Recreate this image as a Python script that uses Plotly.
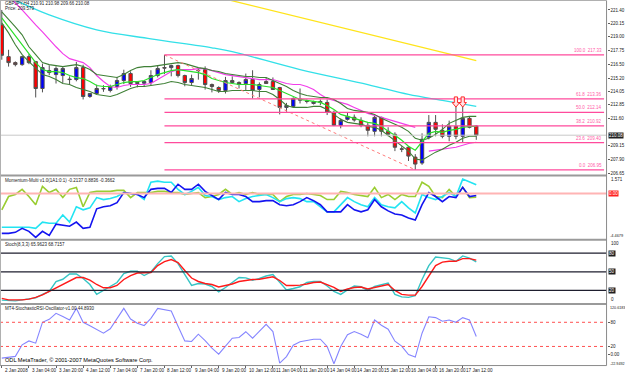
import plotly.graph_objects as go

W, H = 625, 377
bars = list(range(71))

opens = [220.05, 217.18, 216.64, 216.46, 217.18, 216.73, 214.30, 215.92, 215.56, 215.47,
         215.15, 215.11, 216.19, 213.58, 213.85, 214.30, 214.12, 214.48, 215.02, 215.65,
         214.75, 214.78, 214.84, 215.47, 216.19, 216.19, 216.37, 215.47, 214.84, 215.95,
         216.01, 214.66, 214.39, 214.12, 215.02, 214.84, 214.75, 215.11, 214.21, 214.93,
         214.93, 214.39, 212.59, 212.68, 213.35, 213.13, 212.95, 213.13, 213.04, 212.14,
         210.97, 211.51, 211.70, 211.42, 210.97, 210.43, 211.69, 210.43, 210.16, 208.85,
         208.99, 208.10, 207.56, 209.89, 211.24, 210.52, 209.98, 210.88, 209.98, 211.60, 210.91]
highs = [221.40, 217.80, 216.75, 217.25, 217.40, 216.80, 216.55, 216.40, 216.30, 216.30,
         215.40, 216.70, 216.45, 213.85, 214.65, 214.60, 214.65, 215.35, 216.00, 215.85,
         214.90, 214.95, 215.95, 216.35, 217.33, 216.45, 216.45, 215.55, 215.55, 216.15,
         216.30, 214.75, 214.50, 215.35, 215.40, 214.95, 215.65, 215.95, 214.85, 215.30,
         215.30, 214.45, 213.00, 213.50, 214.30, 213.30, 213.20, 213.30, 213.30, 212.30,
         211.60, 212.10, 211.95, 211.70, 211.24, 211.87, 211.75, 210.80, 210.34, 209.08,
         209.10, 208.37, 210.25, 211.90, 211.90, 211.06, 211.40, 212.77, 212.77, 211.78, 210.98]
lows = [216.90, 216.28, 216.30, 216.35, 216.50, 213.49, 213.95, 215.50, 214.75, 214.80,
        214.70, 214.95, 213.31, 213.45, 213.75, 214.00, 213.95, 214.20, 214.70, 214.45,
        214.40, 214.45, 214.60, 215.30, 215.60, 215.40, 215.30, 214.50, 214.60, 215.10,
        214.20, 213.95, 213.90, 213.85, 214.75, 214.30, 214.10, 213.40, 213.50, 214.75,
        214.20, 211.96, 212.20, 212.60, 212.95, 212.95, 212.85, 212.80, 211.90, 210.90,
        210.70, 211.40, 211.30, 210.80, 209.98, 209.98, 209.98, 209.98, 208.64, 208.55,
        207.75, 206.95, 207.40, 209.70, 209.98, 209.80, 209.53, 209.71, 209.44, 210.70, 209.66]
closes = [217.30, 216.64, 216.46, 217.18, 216.64, 214.30, 216.19, 215.74, 216.10, 216.10,
          215.11, 216.19, 213.58, 213.85, 214.30, 214.28, 214.48, 215.02, 215.65, 214.75,
          214.84, 214.93, 215.47, 216.10, 216.15, 216.37, 215.47, 214.84, 215.20, 215.92,
          214.66, 214.48, 214.12, 215.02, 214.84, 214.66, 215.11, 214.12, 214.66, 214.75,
          214.21, 212.59, 212.77, 213.40, 213.25, 213.15, 213.10, 213.04, 212.14, 210.97,
          211.42, 211.78, 211.45, 210.97, 210.52, 211.69, 210.43, 210.16, 208.99, 208.81,
          208.19, 207.47, 209.71, 211.24, 210.61, 209.98, 210.88, 209.98, 211.60, 210.79, 210.08]

band_upper = [221.22, 220.59, 219.87, 219.15, 218.07, 217.36, 216.64, 216.46, 216.37, 216.28,
              216.37, 216.46, 216.28, 216.01, 215.56, 215.47, 215.38, 215.29, 215.56, 215.92,
              216.19, 216.28, 216.28, 216.37, 216.46, 216.55, 216.64, 216.55, 216.37, 216.19,
              216.10, 215.92, 215.83, 215.65, 215.56, 215.47, 215.38, 215.38, 215.29, 215.29,
              215.02, 214.75, 214.48, 214.12, 213.85, 213.67, 213.58, 213.49, 213.49, 213.31,
              212.95, 212.50, 212.32, 212.23, 212.14, 211.96, 211.60, 211.33, 211.06, 210.79,
              210.43, 209.80, 209.62, 209.80, 210.16, 210.61, 211.15, 211.42, 211.69, 211.78, 211.78]
band_mid = [220.68, 219.87, 219.06, 218.25, 217.36, 216.64, 216.01, 215.83, 215.83, 215.74,
            215.47, 215.29, 215.20, 214.93, 214.57, 214.48, 214.48, 214.66, 214.84, 214.93,
            214.93, 215.02, 215.29, 215.56, 215.74, 215.92, 216.01, 215.92, 215.83, 215.74,
            215.56, 215.20, 215.02, 214.84, 214.75, 214.66, 214.66, 214.66, 214.57, 214.48,
            214.39, 214.12, 213.85, 213.58, 213.31, 213.22, 213.13, 213.04, 212.77, 212.41,
            211.96, 211.78, 211.60, 211.42, 211.24, 211.15, 210.88, 210.43, 210.07, 209.62,
            209.08, 208.72, 209.44, 210.25, 210.43, 210.34, 210.52, 210.61, 210.79, 210.88, 210.88]
band_lower = [220.23, 219.33, 218.25, 217.36, 216.73, 216.19, 215.56, 215.38, 215.11, 214.75,
              214.66, 214.39, 214.21, 214.03, 213.76, 213.67, 213.58, 213.76, 214.03, 214.30,
              214.48, 214.48, 214.57, 214.66, 214.75, 214.93, 214.84, 214.66, 214.57, 214.48,
              214.39, 214.21, 214.03, 214.03, 214.12, 214.12, 214.12, 214.12, 214.03, 214.03,
              213.76, 213.31, 212.77, 212.59, 212.59, 212.59, 212.68, 212.68, 212.41, 211.96,
              211.51, 211.24, 211.15, 211.06, 210.88, 210.79, 210.52, 210.07, 209.62, 209.17,
              208.64, 207.92, 207.83, 208.19, 208.55, 208.81, 209.17, 209.44, 209.80, 209.98, 209.98]
stop_line = [223.38, 222.66, 222.03, 221.40, 220.68, 220.05, 219.42, 218.70, 218.07, 217.45,
             217.00, 216.82, 216.64, 216.19, 215.47, 214.93, 214.48, 214.39, 214.57, 214.66,
             214.66, 214.66, 214.75, 215.11, 215.47, 215.83, 216.01, 216.01, 216.01, 216.10,
             216.10, 215.92, 215.74, 215.56, 215.47, 215.38, 215.29, 215.20, 215.11, 215.11,
             215.11, 214.93, 214.75, 214.66, 214.66, 214.48, 214.21, 213.76, 213.40, 213.22,
             213.04, 212.86, 212.59, 212.32, 212.05, 211.87, 211.69, 211.51, 211.33, 211.15,
             210.97, 210.79, None, 208.64, 208.72, 208.81, 208.90, 208.99, 209.17, 209.35, 209.44]
ma_slow_bars = [0, 2, 7, 14, 22, 31, 34, 44, 54, 60, 65, 70]
ma_slow = [222.66, 222.25, 220.95, 219.60, 218.79, 217.98, 217.63, 216.01, 214.66, 213.76, 213.22, 212.68]
ma_long_bars = [30, 40, 50, 60, 70]
ma_long = [222.83, 221.33, 219.83, 218.33, 216.83]

fib_high_bar, fib_high = 24, 217.33
fib_low_bar, fib_low = 61, 206.95
fib_ratios = [100.0, 61.8, 50.0, 38.2, 23.6, 0.0]
arrow_bars = [67, 68]
arrow_price = 213.08
bid = 210.08
main_ticks = [221.40, 220.15, 219.00, 217.75, 216.50, 215.20, 214.05, 212.85, 211.60, 209.15, 207.90, 206.65]

mom_a = [-1.66, -0.31, -0.10, 0.42, -0.31, -1.14, 0.73, 0.10, 0.42, -0.42,
         0.42, 0.62, -1.35, 0.10, 0.21, 0.21, 0.21, 0.31, 0.31, -0.42,
         0.10, 0.10, 0.10, 0.21, 0.21, 0.10, 0.10, -0.10, 0.00, 0.10,
         -0.42, -0.31, -0.10, 0.42, -0.10, 0.10, -0.10, 0.10, -0.10, -0.10,
         -0.10, -0.83, -0.31, -0.10, -0.10, 0.00, -0.10, -0.21, -0.62, -0.62,
         0.21, 0.10, -0.10, -0.21, -0.31, 0.62, -0.42, -0.10, -0.62, -0.10,
         -0.31, -0.31, 1.14, 0.73, -0.31, -0.42, 0.42, -0.31, 0.62, -0.42, -0.37]
mom_b = [-3.43, -3.43, -3.43, -3.43, -3.43, -3.54, -2.91, -3.02, -3.02, -2.18,
         -2.91, -1.35, -1.66, -1.46, -0.42, -0.62, -0.52, -0.31, 0.10, 0.00,
         -0.10, -0.62, 1.14, 1.25, 1.14, 1.14, 0.42, -0.10, 0.21, 0.62,
         -0.21, -0.31, -0.62, -0.42, -0.31, -0.83, -0.52, -0.31, -0.21, -0.10,
         -0.42, -0.83, -0.52, -0.42, -0.52, -0.83, -0.83, -1.35, -1.87, -1.87,
         -1.14, -0.42, -0.83, -1.14, -1.35, -0.42, -1.14, -1.35, -1.46, -0.83,
         -1.46, -1.98, -0.10, -0.42, -0.62, -0.31, 0.10, -0.31, 1.46, 1.14, 0.88]
mom_c = [-4.06, -4.06, -3.95, -3.54, -3.85, -4.47, -3.85, -4.26, -3.12, -3.22,
         -3.33, -2.91, -3.54, -3.43, -1.56, -1.35, -1.25, -0.94, 0.10, 0.00,
         -0.10, -0.42, 0.42, 0.52, 0.52, 0.10, 0.94, 0.42, 0.42, 0.94,
         0.21, -0.21, -0.62, 0.10, -0.10, -0.10, -0.31, -0.83, -0.83, -0.73,
         -0.73, -1.14, -1.25, -1.14, -0.83, -0.42, -0.73, -1.14, -1.87, -1.87,
         -1.87, -1.14, -1.66, -1.87, -1.66, -0.62, -1.35, -1.77, -2.08, -2.18,
         -2.50, -2.70, -1.14, 0.10, -0.31, -0.83, -0.31, -0.42, 0.62, -0.31, -0.21]
mom_max_label, mom_min_label = "1.571", "-4.4679"

stoch_main = [4.5, 3.5, 3.2, 4.8, 6.4, 8.0, 13.6, 18.4, 34.4, 38.0,
              46.4, 46.4, 39.2, 29.6, 13.6, 20.0, 26.4, 32.8, 47.2, 50.9,
              50.9, 44.0, 49.6, 63.2, 74.4, 75.5, 63.2, 45.6, 28.0, 31.2,
              30.4, 26.4, 17.6, 24.8, 32.8, 40.8, 40.3, 36.5, 39.2, 43.2,
              45.6, 32.8, 20.8, 23.2, 25.9, 32.8, 34.4, 34.4, 27.2, 18.4,
              13.6, 20.8, 27.2, 25.9, 20.0, 26.4, 29.6, 32.0, 13.6, 9.6,
              8.8, 11.5, 37.6, 60.0, 73.9, 73.1, 71.2, 66.9, 75.5, 72.0, 65.96]
stoch_signal = [7.2, 4.8, 4.8, 4.8, 6.1, 8.8, 12.8, 18.4, 23.2, 29.6,
                34.4, 40.8, 40.8, 36.5, 29.6, 24.3, 24.3, 28.0, 37.6, 44.0,
                48.0, 48.8, 48.8, 60.0, 66.4, 69.6, 64.8, 52.0, 40.0, 34.4,
                31.2, 29.6, 25.6, 28.0, 30.4, 34.4, 36.5, 37.6, 38.1, 40.0,
                41.9, 36.0, 28.0, 28.0, 28.5, 30.4, 32.8, 33.6, 29.6, 24.8,
                18.4, 22.4, 24.8, 25.6, 22.4, 24.8, 26.4, 29.6, 20.0, 13.6,
                12.5, 12.5, 26.4, 42.4, 60.0, 65.6, 66.9, 66.9, 71.2, 71.2, 68.72]
stoch_levels = [80, 50, 20]

srsi = [-8.9, -7.7, -4.7, 24.0, 33.8, 28.2, 80.0, 87.4, 102.3, 94.1,
        85.7, 114.6, 80.0, 71.4, 62.7, 52.9, 64.0, 89.9, 114.6, 88.2,
        77.6, 71.9, 89.9, 114.6, 110.4, 107.9, 70.1, 33.8, 32.4, 50.4,
        34.3, 15.8, 1.0, 19.5, 40.5, 42.2, 56.6, 40.5, 57.8, 75.1,
        57.1, -21.5, -5.2, 23.2, 31.9, 35.6, 38.0, 38.0, 20.0, -22.9,
        20.0, 49.2, 57.1, 50.4, 41.7, 85.7, 72.6, 62.7, 33.1, 20.7,
        -0.2, -6.4, 52.9, 93.6, 91.6, 82.5, 85.7, 80.0, 91.6, 85.7, 44.89]
srsi_levels = [80, 20]
srsi_max_label, srsi_min_label = "120.6183", "-22.9492"

time_bars = [0, 4, 8, 12, 16, 20, 24, 28, 32, 36, 40, 44, 48, 52, 56, 60, 64, 68]
time_labels = ["2 Jan 2008", "3 Jan 04:00", "3 Jan 20:00", "4 Jan 12:00", "7 Jan 04:00",
               "7 Jan 20:00", "8 Jan 12:00", "9 Jan 04:00", "9 Jan 20:00", "10 Jan 12:00",
               "11 Jan 04:00", "11 Jan 20:00", "14 Jan 04:00", "14 Jan 20:00", "15 Jan 12:00",
               "16 Jan 04:00", "16 Jan 20:00", "17 Jan 12:00"]

# ---------- layout geometry (pixels) ----------
PLOT_R = 608.5
X0_PX, BAR_PX = 1.8, 6.8
def xr(px):
    return (px - X0_PX) / BAR_PX
def fx(px):
    return px / W
def fy(py):
    return 1 - py / H

FONT = "Liberation Sans"
fig = go.Figure()

# main panel
fig.add_trace(go.Scatter(x=ma_long_bars, y=ma_long, mode="lines",
                         line=dict(color="#FFE41A", width=1.3), hoverinfo="skip"))
fig.add_trace(go.Scatter(x=ma_slow_bars, y=ma_slow, mode="lines", line_shape="spline",
                         line=dict(color="#33E0E8", width=1.3), hoverinfo="skip"))
fig.add_trace(go.Scatter(x=bars, y=stop_line, mode="lines",
                         line=dict(color="#F23EEA", width=1.2), hoverinfo="skip"))
fig.add_trace(go.Scatter(x=bars, y=band_upper, mode="lines",
                         line=dict(color="#3F8036", width=1.1), hoverinfo="skip"))
fig.add_trace(go.Scatter(x=bars, y=band_lower, mode="lines",
                         line=dict(color="#3F8036", width=1.1), hoverinfo="skip"))
fig.add_trace(go.Scatter(x=bars, y=band_mid, mode="lines",
                         line=dict(color="#2AE02A", width=1.2), hoverinfo="skip"))
fig.add_trace(go.Scatter(x=[fib_high_bar, fib_low_bar], y=[fib_high, fib_low], mode="lines",
                         line=dict(color="#FF7A7A", width=1, dash="dot"), hoverinfo="skip"))
fig.add_trace(go.Candlestick(x=bars, open=opens, high=highs, low=lows, close=closes,
                             increasing=dict(fillcolor="#0000FF", line=dict(color="#505050", width=1)),
                             decreasing=dict(fillcolor="#FF0000", line=dict(color="#505050", width=1)),
                             whiskerwidth=0, hoverinfo="skip"))

# momentum panel
for vals, col in [(mom_a, "#9ACD32"), (mom_b, "#22E4F2"), (mom_c, "#1414F0")]:
    fig.add_trace(go.Scatter(x=bars, y=vals, mode="lines", yaxis="y2",
                             line=dict(color=col, width=1.6), hoverinfo="skip"))
# stochastic panel
fig.add_trace(go.Scatter(x=bars, y=stoch_main, mode="lines", yaxis="y3",
                         line=dict(color="#35C4C4", width=1.4), hoverinfo="skip"))
fig.add_trace(go.Scatter(x=bars, y=stoch_signal, mode="lines", yaxis="y3",
                         line=dict(color="#FF1A1A", width=1.4), hoverinfo="skip"))
# stochastic RSI panel
fig.add_trace(go.Scatter(x=bars, y=srsi, mode="lines", yaxis="y4",
                         line=dict(color="#8585FF", width=1.1), hoverinfo="skip"))

x_lo, x_hi = xr(0), xr(PLOT_R)
shapes = []
annotations = []
# fibonacci levels
fib_span = fib_high - fib_low
for r in fib_ratios:
    lvl = fib_low + fib_span * r / 100.0
    shapes.append(dict(type="line", xref="x", yref="y", x0=fib_high_bar, x1=xr(606),
                       y0=lvl, y1=lvl, line=dict(color="#FF4A9C", width=1.3)))
    annotations.append(dict(xref="paper", yref="y", x=fx(606), y=lvl, xanchor="right",
                            yanchor="bottom", text=f"{r:.1f}  {lvl:.2f}", showarrow=False,
                            font=dict(family=FONT, size=4.5, color="#FF5AA8")))
# bid line
shapes.append(dict(type="line", xref="paper", yref="y", x0=0, x1=fx(PLOT_R), y0=bid, y1=bid,
                   line=dict(color="#C8C8C8", width=1)))
# down arrows (block arrows) above the two bars
AH, AW, SW = 0.46, 0.55, 0.24   # half-height (price), head half-width, stem half-width (bars)
for b in arrow_bars:
    top, mid, bot = arrow_price + AH, arrow_price - 0.05, arrow_price - AH
    path = (f"M {b - SW} {top} L {b + SW} {top} L {b + SW} {mid} L {b + AW} {mid} "
            f"L {b} {bot} L {b - AW} {mid} L {b - SW} {mid} Z")
    shapes.append(dict(type="path", xref="x", yref="y", path=path,
                       fillcolor="#FFE4E4", line=dict(color="#FF2A2A", width=1)))
# stochastic levels
for lv in stoch_levels:
    shapes.append(dict(type="line", xref="paper", yref="y3", x0=0, x1=fx(PLOT_R), y0=lv, y1=lv,
                       line=dict(color="#1E1E2E", width=1.2)))
for lv in srsi_levels:
    shapes.append(dict(type="line", xref="paper", yref="y4", x0=0, x1=fx(PLOT_R), y0=lv, y1=lv,
                       line=dict(color="#FF5050", width=1, dash="dot")))
# momentum zero line
shapes.append(dict(type="line", xref="paper", yref="y2", x0=0, x1=fx(PLOT_R), y0=0, y1=0,
                   line=dict(color="#FFB4B4", width=2)))
# panel separators / frame
for py in [176.5, 241.0, 305.5]:
    shapes.append(dict(type="line", xref="paper", yref="paper", x0=0, x1=fx(PLOT_R),
                       y0=fy(py), y1=fy(py), line=dict(color="#9A9A9A", width=2)))
shapes.append(dict(type="line", xref="paper", yref="paper", x0=0, x1=fx(PLOT_R),
                   y0=fy(367.5), y1=fy(367.5), line=dict(color="#8A8A8A", width=1)))
shapes.append(dict(type="line", xref="paper", yref="paper", x0=fx(PLOT_R), x1=fx(PLOT_R),
                   y0=fy(367.5), y1=fy(0.5), line=dict(color="#8A8A8A", width=1)))
shapes.append(dict(type="line", xref="paper", yref="paper", x0=0, x1=fx(PLOT_R),
                   y0=fy(0.5), y1=fy(0.5), line=dict(color="#B0B0B0", width=1)))
shapes.append(dict(type="line", xref="paper", yref="paper", x0=fx(0.5), x1=fx(0.5),
                   y0=fy(367.5), y1=fy(0.5), line=dict(color="#B0B0B0", width=1)))

def label(x, y, text, size=4.5, color="#202020", anchor="left", bg=None, fc=None):
    d = dict(xref="paper", yref="paper", x=fx(x), y=fy(y), text=text, showarrow=False,
             xanchor=anchor, yanchor="middle",
             font=dict(family=FONT, size=size, color=fc or color))
    if bg:
        d["bgcolor"] = bg
        d["borderpad"] = 0
    annotations.append(d)

label(3, 4, "GBPJPY,H4 210.91 210.98 209.66 210.08")
label(3, 9, "Price: 209.579")
label(3, 181.5, "Momentum-Multi v1.0(1A1:0:1) -0.2137 0.8836 -0.3662")
label(3, 246, "Stoch(8,3,3) 65.9623 68.7157")
label(3, 310.5, "MT4-StochasticRSI-Oscillator-v1.00 44.8930")
label(3, 362, "ODL MetaTrader, © 2001-2007 MetaQuotes Software Corp.", size=5.6, color="#000000")

# window max/min labels on the right scale
label(PLOT_R + 2, 180, mom_max_label)
label(PLOT_R + 1.5, 237, mom_min_label, size=3.9)
label(PLOT_R + 2, 244.5, "100")
label(PLOT_R + 2, 301.5, "0")
label(PLOT_R + 1.5, 310, srsi_max_label, size=3.7)
label(PLOT_R + 1.5, 365.5, srsi_min_label, size=3.7)

# right-side boxed labels
annotations.append(dict(xref="paper", yref="y", x=fx(PLOT_R + 1), y=bid, text="210.08",
                        showarrow=False, xanchor="left", bgcolor="#202020", borderpad=0,
                        font=dict(family=FONT, size=4.5, color="#FFFFFF")))
annotations.append(dict(xref="paper", yref="y2", x=fx(PLOT_R + 1), y=0, text="0.00",
                        showarrow=False, xanchor="left", bgcolor="#FF2020", borderpad=0,
                        font=dict(family=FONT, size=4.5, color="#FFFFFF")))
for lv in stoch_levels:
    annotations.append(dict(xref="paper", yref="y3", x=fx(PLOT_R + 1), y=lv, text=str(lv),
                            showarrow=False, xanchor="left", bgcolor="#202020", borderpad=0,
                            font=dict(family=FONT, size=4.5, color="#FFFFFF")))

# time labels
for b, t in zip(time_bars, time_labels):
    annotations.append(dict(xref="x", yref="paper", x=b, y=fy(372.5), text=t, showarrow=False,
                            xanchor="left", yanchor="middle", xshift=1,
                            font=dict(family=FONT, size=4.6, color="#202020")))

def yax(dom_top, dom_bot, rng, tickvals, ticktext):
    return dict(domain=[fy(dom_bot), fy(dom_top)], range=rng, side="right", anchor="x",
                showgrid=False, zeroline=False, showline=False, ticks="outside", ticklen=2,
                tickcolor="#606060", tickvals=tickvals, ticktext=ticktext,
                tickfont=dict(family=FONT, size=4.5, color="#202020"), fixedrange=True)

main_top, main_bot = 1, 175
p_per_px = 0.0899
main_rng = [221.40 - (main_bot - 10) * p_per_px, 221.40 + (10 - main_top) * p_per_px]

fig.update_layout(
    width=W, height=H, margin=dict(l=0, r=0, t=0, b=0),
    paper_bgcolor="#FFFFFF", plot_bgcolor="#FFFFFF", showlegend=False,
    xaxis=dict(domain=[0, fx(PLOT_R)], range=[x_lo, x_hi], anchor="y4",
               showgrid=False, zeroline=False, showline=False, rangeslider=dict(visible=False),
               tickvals=time_bars, ticks="outside", ticklen=3, tickcolor="#606060",
               showticklabels=False, fixedrange=True),
    yaxis=yax(main_top, main_bot, main_rng, main_ticks, [f"{v:.2f}" for v in main_ticks]),
    yaxis2=yax(177, 240, [-4.60, 1.77], [], []),
    yaxis3=yax(242, 304.5, [0, 100], [], []),
    yaxis4=yax(307, 366, [-23.7, 122], [80, 20, 0], ["80", "20", "0.00"]),
    shapes=shapes, annotations=annotations,
)

fig.write_html("out.html")
